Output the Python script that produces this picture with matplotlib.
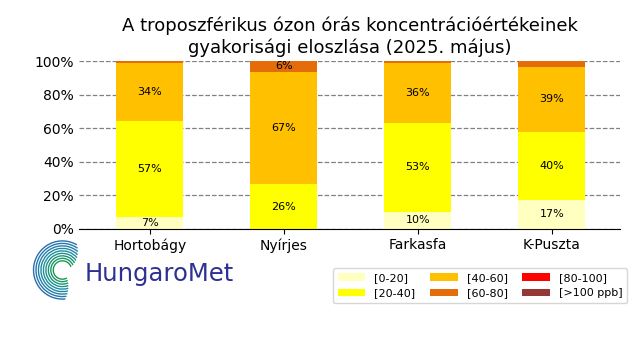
import numpy as np
import matplotlib
matplotlib.use('Agg')
import matplotlib.pyplot as plt
from matplotlib.patches import Arc

# data
stations = ['Hortobágy', 'Nyírjes', 'Farkasfa', 'K-Puszta']
categories = ['[0-20]', '[20-40]', '[40-60]', '[60-80]', '[80-100]', '[>100 ppb]']
colors = ['#ffffc0', '#ffff00', '#ffc000', '#e46c0a', '#ff0000', '#953735']
v_0_20 = [7.2, 0.0, 10.0, 17.2]
v_20_40 = [57.3, 26.4, 53.3, 40.4]
v_40_60 = [34.4, 67.4, 35.9, 39.2]
v_60_80 = [1.1, 6.2, 0.8, 3.2]
v_80_100 = [0.0, 0.0, 0.0, 0.0]
v_100 = [0.0, 0.0, 0.0, 0.0]
series = [v_0_20, v_20_40, v_40_60, v_60_80, v_80_100, v_100]

fig = plt.figure(figsize=(6.4, 3.6), dpi=100)
ax = fig.add_axes([0.123, 0.365, 0.846, 0.465])

x = np.arange(len(stations))
bottom = np.zeros(len(stations))
for vals, col, lab in zip(series, colors, categories):
    vals = np.array(vals)
    ax.bar(x, vals, 0.5, bottom=bottom, color=col, label=lab, zorder=2)
    for xi, b, v in zip(x, bottom, vals):
        if v >= 5:
            ax.text(xi, b + v / 2, '%d%%' % round(v), ha='center', va='center', fontsize=8, zorder=3)
    bottom += vals

ax.set_xlim(-0.53, 3.51)
ax.set_ylim(0, 100)
ax.set_yticks([0, 20, 40, 60, 80, 100])
ax.set_yticklabels(['%d%%' % t for t in [0, 20, 40, 60, 80, 100]], fontsize=10)
ax.set_xticks(x)
ax.set_xticklabels(stations, fontsize=10)
ax.tick_params(axis='y', length=0)
ax.grid(axis='y', linestyle='--', color='gray', linewidth=0.9, zorder=0)
for s in ['top', 'right', 'left']:
    ax.spines[s].set_visible(False)
ax.set_title('A troposzférikus ózon órás koncentrációértékeinek\ngyakorisági eloszlása (2025. május)', fontsize=13)

fig.legend(loc='upper left', bbox_to_anchor=(0.512, 0.27), ncol=3, fontsize=8,
           handlelength=2.5, columnspacing=1.3, frameon=True, edgecolor='#cccccc')

# logo
lax = fig.add_axes([0.05, 0.165, 0.095, 0.17])
lax.set_xlim(-1, 1)
lax.set_ylim(-1, 1)
lax.axis('off')
cmap = matplotlib.colors.LinearSegmentedColormap.from_list('hm', ['#1a9a50', '#1b8fa0', '#2a6fb0'])
for i, r in enumerate(np.linspace(0.3, 0.95, 9)):
    lax.add_patch(Arc((0, 0), 2 * r, 2 * r, theta1=20 + i * 5, theta2=300 - i * 3,
                      color=cmap(i / 8), lw=1.0))
fig.text(0.133, 0.24, 'HungaroMet', fontsize=17.5, color='#2e3192', va='center', family='DejaVu Sans')

fig.savefig('out.png', dpi=100)
